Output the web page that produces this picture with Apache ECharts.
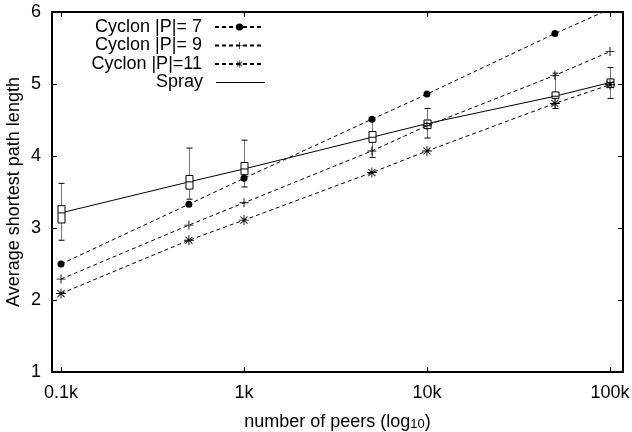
<!DOCTYPE html>
<html>
<head>
<meta charset="utf-8">
<script src="https://cdn.jsdelivr.net/npm/echarts@6/dist/echarts.min.js"></script>
<style>html,body{margin:0;padding:0;background:#fff;}#c{width:632px;height:432px;}</style>
</head>
<body>
<div id="c"></div>
<script>
const peers = [100, 500, 1000, 5000, 10000, 50000, 100000];
const cyclon7 = [2.50, 3.33, 3.69, 4.51, 4.86, 5.70, 6.04];
const cyclon9 = [2.29, 3.04, 3.35, 4.07, 4.42, 5.12, 5.45];
const cyclon11 = [2.09, 2.83, 3.11, 3.77, 4.07, 4.73, 4.99];
const sprayMed = [3.21, 3.64, 3.82, 4.26, 4.45, 4.83, 5.02];
const sprayQ1 = [3.07, 3.54, 3.74, 4.19, 4.38, 4.80, 4.95];
const sprayQ3 = [3.31, 3.73, 3.91, 4.34, 4.50, 4.89, 5.07];
const sprayLow = [2.83, 3.40, 3.57, 3.98, 4.25, 4.66, 4.80];
const sprayHigh = [3.62, 4.11, 4.22, 4.50, 4.66, 5.15, 5.23];
const seriesNames = ['Cyclon |P|= 7', 'Cyclon |P|= 9', 'Cyclon |P|=11', 'Spray'];
const xTickValues = [100, 1000, 10000, 100000];
const yTickLabels = ['1', '2', '3', '4', '5', '6'];

const FONT = 'Liberation Sans, Arial, Helvetica, sans-serif';
const plusPath = 'path://M-0.1,-1 L0.1,-1 L0.1,-0.1 L1,-0.1 L1,0.1 L0.1,0.1 L0.1,1 L-0.1,1 L-0.1,0.1 L-1,0.1 L-1,-0.1 L-0.1,-0.1 Z';
function bar(angle) {
  const c = Math.cos(angle), s = Math.sin(angle), w = 0.09;
  const pts = [[-1, -w], [1, -w], [1, w], [-1, w]].map(p => [p[0] * c - p[1] * s, p[0] * s + p[1] * c]);
  return 'M' + pts.map(p => p[0].toFixed(3) + ',' + p[1].toFixed(3)).join(' L') + ' Z';
}
const starPath = 'path://' + [0, Math.PI / 4, Math.PI / 2, 3 * Math.PI / 4].map(bar).join(' ');

function xy(vals) { return peers.map((p, i) => [p, vals[i]]); }

const xFmt = v => {
  const r = Math.round(v);
  if (xTickValues.indexOf(r) < 0) return '';
  return (r / 1000) + 'k';
};

const legends = seriesNames.map((n, i) => ({
  data: i === 3 ? [{ name: n, icon: 'rect' }] : [n],
  orient: 'vertical',
  align: 'right',
  right: 367,
  top: 18 + i * 18.5,
  padding: 0,
  itemWidth: 49,
  itemHeight: i === 3 ? 1 : 9,
  textStyle: { fontFamily: FONT, fontSize: 18, color: '#000', padding: [0, 8, 0, 0] },
  selectedMode: false
}));

const axisCommon = {
  axisLine: { show: true, lineStyle: { color: '#000', width: 2 } },
  axisTick: { show: true, inside: true, length: 5, lineStyle: { color: '#000', width: 1 } },
  splitLine: { show: false },
  minorTick: { show: false }
};

const option = {
  animation: false,
  backgroundColor: '#fff',
  grid: { left: 52, right: 9, top: 12, bottom: 60, containLabel: false, outerBoundsMode: 'none' },
  legend: legends,
  xAxis: [
    Object.assign({
      type: 'log', logBase: 10, min: 89.3, max: 117800, position: 'bottom',
      name: 'number of peers (log{sub|10})',
      nameLocation: 'middle', nameGap: 32,
      nameTextStyle: {
        fontFamily: FONT, fontSize: 18, color: '#000', lineHeight: 18, verticalAlign: 'top',
        rich: { sub: { fontFamily: FONT, fontSize: 13, color: '#000', lineHeight: 13, verticalAlign: 'bottom', padding: [11, 0, 0, 0] } }
      },
      axisLabel: { fontFamily: FONT, fontSize: 18, color: '#000', margin: 12, formatter: xFmt, showMinLabel: false, showMaxLabel: false }
    }, axisCommon),
    Object.assign({
      type: 'log', logBase: 10, min: 89.3, max: 117800, position: 'top',
      axisLabel: { show: false }
    }, axisCommon)
  ],
  yAxis: [
    Object.assign({
      type: 'value', min: 1, max: 6, interval: 1, position: 'left',
      name: 'Average shortest path length', nameLocation: 'middle', nameGap: 29, nameRotate: 90,
      nameMoveOverlap: false,
      nameTextStyle: { fontFamily: FONT, fontSize: 18, color: '#000' },
      axisLabel: { fontFamily: FONT, fontSize: 18, color: '#000', margin: 11, formatter: v => yTickLabels[Math.round(v) - 1] }
    }, axisCommon),
    Object.assign({
      type: 'value', min: 1, max: 6, interval: 1, position: 'right',
      axisLabel: { show: false }
    }, axisCommon)
  ],
  series: [
    {
      name: seriesNames[3], type: 'line', data: xy(sprayMed), symbol: 'none', z: 3,
      lineStyle: { color: '#000', width: 1 }, itemStyle: { color: '#000' }
    },
    {
      name: 'spray-box', type: 'custom', z: 4,
      data: peers.map((p, i) => [p, sprayLow[i], sprayQ1[i], sprayMed[i], sprayQ3[i], sprayHigh[i]]),
      encode: { x: 0, y: [1, 2, 3, 4, 5] },
      renderItem: function (params, api) {
        const x = api.value(0);
        const pl = api.coord([x, api.value(1)]);
        const p1 = api.coord([x, api.value(2)]);
        const pm = api.coord([x, api.value(3)]);
        const p3 = api.coord([x, api.value(4)]);
        const ph = api.coord([x, api.value(5)]);
        const cx = Math.round(pl[0]) + 0.5;
        const bw = 3.5, cw = 3;
        const grey = { stroke: '#777', lineWidth: 1 };
        const blk = { stroke: '#000', lineWidth: 1 };
        return {
          type: 'group', children: [
            { type: 'line', shape: { x1: cx, y1: pl[1], x2: cx, y2: p1[1] }, style: grey },
            { type: 'line', shape: { x1: cx, y1: p3[1], x2: cx, y2: ph[1] }, style: grey },
            { type: 'line', shape: { x1: cx - cw, y1: pl[1], x2: cx + cw, y2: pl[1] }, style: blk },
            { type: 'line', shape: { x1: cx - cw, y1: ph[1], x2: cx + cw, y2: ph[1] }, style: blk },
            { type: 'rect', shape: { x: cx - bw, y: p3[1], width: 2 * bw, height: p1[1] - p3[1] }, style: { fill: '#fff', stroke: '#000', lineWidth: 1 } },
            { type: 'line', shape: { x1: cx - bw, y1: pm[1], x2: cx + bw, y2: pm[1] }, style: blk }
          ]
        };
      }
    },
    {
      name: seriesNames[0], type: 'line', data: xy(cyclon7), symbol: 'circle', symbolSize: 7, z: 5,
      lineStyle: { color: '#000', width: 1, type: [4, 3] }, itemStyle: { color: '#000' }
    },
    {
      name: seriesNames[1], type: 'line', data: xy(cyclon9), symbol: plusPath, symbolSize: 9, z: 5,
      lineStyle: { color: '#000', width: 1, type: [4, 3] }, itemStyle: { color: '#000' }
    },
    {
      name: seriesNames[2], type: 'line', data: xy(cyclon11), symbol: starPath, symbolSize: 10, z: 5,
      lineStyle: { color: '#000', width: 1, type: [4, 3] }, itemStyle: { color: '#000' }
    }
  ]
};

const chart = echarts.init(document.getElementById('c'), null, { renderer: 'canvas' });
chart.setOption(option);
</script>
</body>
</html>
